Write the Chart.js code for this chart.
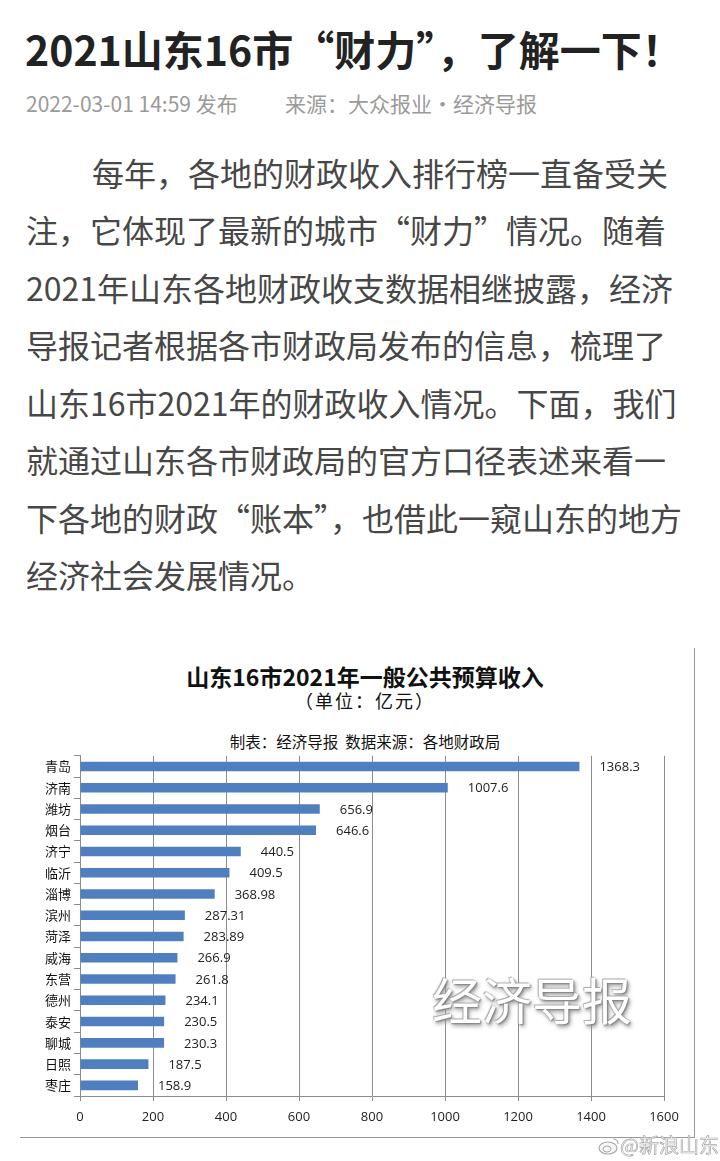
<!DOCTYPE html>
<html lang="zh-CN">
<head>
<meta charset="utf-8">
<title>2021山东16市“财力”，了解一下！</title>
<script src="https://cdn.jsdelivr.net/npm/chart.js@4.4.1/dist/chart.umd.min.js"></script>
<style>
    html, body {
        margin: 0;
        padding: 0;
        background: #fff;
        font-family: "Noto Sans CJK SC", "Noto Sans", sans-serif;
    }
    #pagina {
        position: relative;
        width: 720px;
        height: 1161px;
        overflow: hidden;
    }
    .abs { position: absolute; white-space: nowrap; }
    #titulo {
        left: 25px; top: 20px;
        font-size: 41px; line-height: 56px;
        font-weight: bold; color: #222;
    }
    .meta { top: 89px; font-size: 21px; line-height: 28px; color: #9a9a9a; }
    .linha { left: 26px; font-size: 32px; line-height: 40px; color: #474747; }
    .cab { left: 50px; width: 630px; text-align: center; color: #111; }
    #moldura {
        left: 20px; top: 648px; width: 674px; height: 489px;
        border-right: 1px solid #999; border-bottom: 1px solid #999;
    }
    #caixa { left: 30px; top: 745px; width: 670px; height: 395px; }
    #marca {
        left: 432px; top: 966px;
        font-size: 50px; line-height: 64px; color: #fff;
        text-shadow: 1px 1px 2px #777, -1px -1px 1px #aaa, 2px 3px 4px #999;
    }
    #weibo {
        left: 598px; top: 1131px; font-size: 20px; line-height: 28px;
        color: #f7f7f7; -webkit-text-stroke: 0.7px #aaa;
    }
</style>
</head>
<body>
<div id="pagina">
    <div id="titulo" class="abs">2021山东16市“财力”，了解一下！</div>
    <div class="abs meta" style="left:26px">2022-03-01 14:59 发布</div>
    <div class="abs meta" style="left:285px">来源：大众报业·经济导报</div>

    <div class="abs linha" style="top:152px;left:92px">每年，各地的财政收入排行榜一直备受关</div>
    <div class="abs linha" style="top:209px">注，它体现了最新的城市“财力”情况。随着</div>
    <div class="abs linha" style="top:267px">2021年山东各地财政收支数据相继披露，经济</div>
    <div class="abs linha" style="top:324px">导报记者根据各市财政局发布的信息，梳理了</div>
    <div class="abs linha" style="top:382px">山东16市2021年的财政收入情况。下面，我们</div>
    <div class="abs linha" style="top:439px">就通过山东各市财政局的官方口径表述来看一</div>
    <div class="abs linha" style="top:497px">下各地的财政“账本”，也借此一窥山东的地方</div>
    <div class="abs linha" style="top:554px">经济社会发展情况。</div>

    <div id="moldura" class="abs"></div>
    <div class="abs cab" style="top:662px;font-size:23px;line-height:28px;font-weight:bold">山东16市2021年一般公共预算收入</div>
    <div class="abs cab" style="top:689px;font-size:18px;line-height:22px;letter-spacing:2px">（单位：亿元）</div>
    <div class="abs cab" style="top:731px;font-size:15.5px;line-height:20px">制表：经济导报&nbsp;&nbsp;数据来源：各地财政局</div>

    <div id="caixa" class="abs"><canvas id="graficoReceita"></canvas></div>

    <div id="marca" class="abs">经济导报</div>
    <div id="weibo" class="abs"><svg width="22" height="18" viewBox="0 0 22 18" style="vertical-align:-2px"><ellipse cx="10" cy="11" rx="9" ry="6" fill="#f7f7f7" stroke="#aaa" stroke-width="1.2"/><ellipse cx="9" cy="12" rx="4" ry="3" fill="none" stroke="#aaa" stroke-width="1"/><path d="M15 2 Q20 2 20 7" fill="none" stroke="#aaa" stroke-width="1.2"/></svg>@新浪山东</div>
</div>

<script>
// dados (亿元)
let cidades = ['青岛', '济南', '潍坊', '烟台', '济宁', '临沂', '淄博', '滨州',
    '菏泽', '威海', '东营', '德州', '泰安', '聊城', '日照', '枣庄']
let receita = [1368.3, 1007.6, 656.9, 646.6, 440.5, 409.5, 368.98, 287.31,
    283.89, 266.9, 261.8, 234.1, 230.5, 230.3, 187.5, 158.9]
let rotulos = ['1368.3', '1007.6', '656.9', '646.6', '440.5', '409.5', '368.98', '287.31',
    '283.89', '266.9', '261.8', '234.1', '230.5', '230.3', '187.5', '158.9']
let escalaX = [0, 1600, 200]

// escreve o valor ao lado de cada barra
const valoresNasBarras = {
    id: 'valoresNasBarras',
    afterDatasetsDraw(chart) {
        let ctx = chart.ctx
        let meta = chart.getDatasetMeta(0)
        ctx.save()
        ctx.font = '13px "Open Sans", "DejaVu Sans", sans-serif'
        ctx.fillStyle = '#222'
        ctx.textAlign = 'left'
        ctx.textBaseline = 'middle'
        meta.data.forEach((barra, i) => {
            ctx.fillText(rotulos[i], barra.x + 20, barra.y + 1)
        })
        ctx.restore()
    }
}

let ctx = document.getElementById('graficoReceita').getContext('2d')
new Chart(ctx, {
    type: 'bar',
    data: {
        labels: cidades,
        datasets: [{
            label: '一般公共预算收入',
            data: receita,
            backgroundColor: '#4f7fbf',
            borderWidth: 0,
            barPercentage: 0.5,
            categoryPercentage: 0.9
        }]
    },
    options: {
        indexAxis: 'y',
        responsive: true,
        maintainAspectRatio: false,
        animation: false,
        layout: {
            padding: { top: 7, right: 36, left: 0, bottom: 0 }
        },
        plugins: {
            legend: { display: false },
            tooltip: { enabled: false }
        },
        scales: {
            x: {
                min: escalaX[0],
                max: escalaX[1],
                afterFit: (escala) => { escala.height = 44 },
                ticks: {
                    stepSize: escalaX[2],
                    color: '#222',
                    padding: 8,
                    callback: (valor) => String(valor),
                    font: { size: 13, family: '"Open Sans", "DejaVu Sans", sans-serif' }
                },
                grid: {
                    color: '#8c8c8c',
                    lineWidth: 1,
                    tickLength: 5
                },
                border: { color: '#8c8c8c' }
            },
            y: {
                afterFit: (escala) => { escala.width = 50 },
                ticks: {
                    color: '#111',
                    padding: 3,
                    font: { size: 13, family: '"Noto Sans CJK SC", sans-serif' }
                },
                grid: {
                    drawOnChartArea: false,
                    offset: true,
                    color: '#8c8c8c',
                    tickLength: 6
                },
                border: { color: '#8c8c8c' }
            }
        }
    },
    plugins: [valoresNasBarras]
})
</script>
</body>
</html>
